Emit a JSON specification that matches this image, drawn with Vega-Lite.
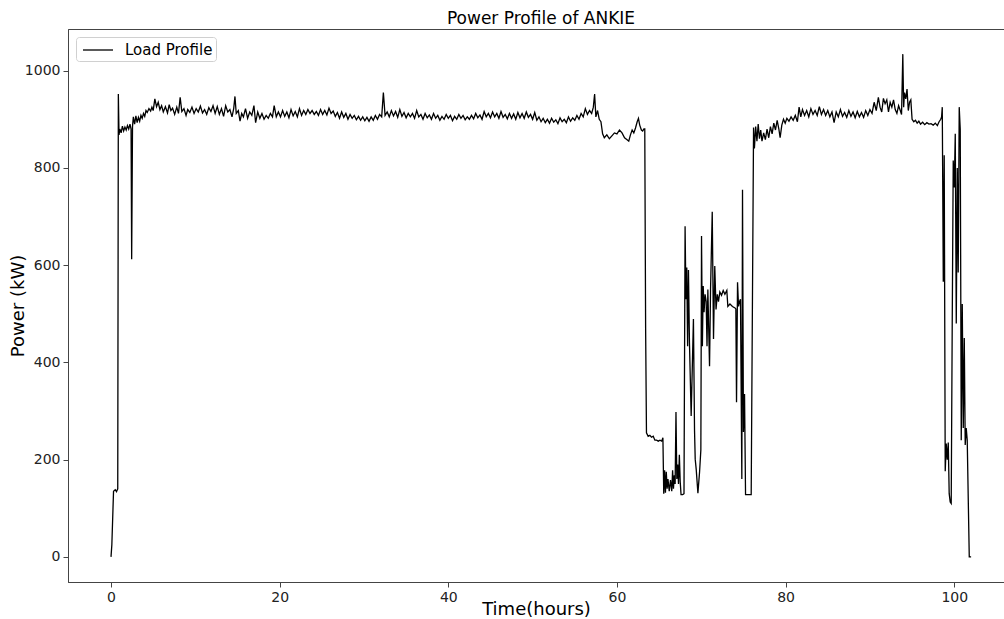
{
  "$schema": "https://vega.github.io/schema/vega-lite/v6.json",
  "autosize": {"type": "none"},
  "width": 936,
  "height": 553,
  "padding": {"left": 68, "top": 29, "right": 0, "bottom": 37},
  "background": "white",
  "title": {"text": "Power Profile of ANKIE", "fontSize": 17, "fontWeight": "normal", "font": "DejaVu Sans", "color": "#000", "offset": 1, "dx": 5},
  "config": {
    "view": {"stroke": "#444", "strokeWidth": 1},
    "font": "DejaVu Sans",
    "axis": {"labelFont": "DejaVu Sans", "titleFont": "DejaVu Sans", "labelFontSize": 14, "titleFontSize": 18, "titleFontWeight": "normal", "labelColor": "#222", "titleColor": "#000", "domainColor": "#444", "tickColor": "#444", "tickSize": 5, "grid": false, "labelPadding": 3}
  },
  "data": {"values": [
    {"t":0,"p":0},{"t":0.1,"p":25},{"t":0.3,"p":135},{"t":0.5,"p":138},{"t":0.65,"p":134},{"t":0.8,"p":140},{"t":0.87,"p":952},{"t":0.95,"p":868},{"t":1.05,"p":880},{"t":1.2,"p":872},{"t":1.35,"p":886},{"t":1.5,"p":876},{"t":1.65,"p":884},{"t":1.8,"p":878},{"t":1.95,"p":887},{"t":2.1,"p":880},{"t":2.25,"p":890},{"t":2.38,"p":880},{"t":2.45,"p":612},{"t":2.55,"p":885},{"t":2.65,"p":905},{"t":2.8,"p":890},{"t":2.95,"p":907},{"t":3.1,"p":893},{"t":3.25,"p":904},{"t":3.4,"p":896},{"t":3.55,"p":908},{"t":3.7,"p":902},{"t":3.85,"p":912},{"t":4.0,"p":906},{"t":4.15,"p":918},{"t":4.3,"p":914},{"t":4.5,"p":922},{"t":4.7,"p":917},{"t":4.85,"p":925},{"t":5.0,"p":918},{"t":5.2,"p":942},{"t":5.4,"p":926},
    {"t":5.6,"p":935},{"t":5.8,"p":920},{"t":6.0,"p":928},{"t":6.2,"p":915},{"t":6.45,"p":926},{"t":6.7,"p":913},{"t":6.9,"p":930},{"t":7.1,"p":918},{"t":7.3,"p":923},{"t":7.55,"p":910},{"t":7.8,"p":925},{"t":8.0,"p":912},{"t":8.2,"p":945},{"t":8.4,"p":916},{"t":8.65,"p":922},{"t":8.9,"p":908},{"t":9.1,"p":920},{"t":9.35,"p":914},{"t":9.6,"p":925},{"t":9.85,"p":912},{"t":10.1,"p":922},{"t":10.35,"p":915},{"t":10.6,"p":927},{"t":10.85,"p":913},{"t":11.1,"p":920},{"t":11.35,"p":910},{"t":11.6,"p":924},{"t":11.85,"p":916},{"t":12.1,"p":928},{"t":12.35,"p":912},{"t":12.6,"p":926},{"t":12.85,"p":910},{"t":13.1,"p":922},{"t":13.35,"p":906},{"t":13.6,"p":928},{"t":13.85,"p":915},{"t":14.1,"p":920},{"t":14.35,"p":905},{"t":14.55,"p":922},{"t":14.7,"p":947},{"t":14.85,"p":912},{"t":15.1,"p":918},{"t":15.3,"p":896},{"t":15.5,"p":912},{"t":15.7,"p":905},{"t":15.95,"p":922},{"t":16.2,"p":902},{"t":16.45,"p":915},{"t":16.7,"p":908},{"t":16.95,"p":928},{"t":17.15,"p":893},{"t":17.4,"p":915},{"t":17.65,"p":902},{"t":17.9,"p":912},{"t":18.15,"p":900},{"t":18.4,"p":908},{"t":18.65,"p":902},{"t":18.9,"p":912},{"t":19.15,"p":905},{"t":19.35,"p":928},{"t":19.6,"p":905},{"t":19.85,"p":915},{"t":20.1,"p":905},{"t":20.35,"p":918},{"t":20.6,"p":906},{"t":20.85,"p":915},{"t":21.1,"p":903},{"t":21.35,"p":920},{"t":21.6,"p":907},{"t":21.85,"p":916},{"t":22.1,"p":905},{"t":22.35,"p":922},{"t":22.6,"p":908},{"t":22.85,"p":918},{"t":23.1,"p":910},{"t":23.35,"p":920},{"t":23.6,"p":912},{"t":23.85,"p":918},{"t":24.1,"p":910},{"t":24.35,"p":916},{"t":24.6,"p":908},{"t":24.85,"p":920},{"t":25.1,"p":910},{"t":25.35,"p":918},{"t":25.6,"p":909},{"t":25.85,"p":923},{"t":26.1,"p":912},{"t":26.35,"p":917},{"t":26.6,"p":906},{"t":26.85,"p":914},{"t":27.1,"p":902},{"t":27.35,"p":915},{"t":27.6,"p":904},{"t":27.85,"p":912},{"t":28.1,"p":900},{"t":28.35,"p":910},{"t":28.6,"p":902},{"t":28.85,"p":908},{"t":29.1,"p":899},{"t":29.35,"p":906},{"t":29.6,"p":898},{"t":29.85,"p":905},{"t":30.1,"p":897},{"t":30.35,"p":904},{"t":30.6,"p":896},{"t":30.85,"p":905},{"t":31.1,"p":898},{"t":31.35,"p":908},{"t":31.6,"p":900},{"t":31.85,"p":910},{"t":32.1,"p":905},{"t":32.3,"p":955},{"t":32.5,"p":908},{"t":32.75,"p":915},{"t":33.0,"p":905},{"t":33.25,"p":918},{"t":33.5,"p":907},{"t":33.75,"p":916},{"t":34.0,"p":904},{"t":34.25,"p":920},{"t":34.5,"p":906},{"t":34.75,"p":914},{"t":35.0,"p":903},{"t":35.25,"p":912},{"t":35.5,"p":905},{"t":35.75,"p":912},{"t":36.0,"p":902},{"t":36.25,"p":918},{"t":36.5,"p":905},{"t":36.75,"p":910},{"t":37.0,"p":900},{"t":37.25,"p":912},{"t":37.5,"p":903},{"t":37.75,"p":909},{"t":38.0,"p":900},{"t":38.25,"p":912},{"t":38.5,"p":902},{"t":38.75,"p":908},{"t":39.0,"p":898},{"t":39.25,"p":906},{"t":39.5,"p":900},{"t":39.75,"p":910},{"t":40.0,"p":902},{"t":40.25,"p":908},{"t":40.5,"p":897},{"t":40.75,"p":906},{"t":41.0,"p":900},{"t":41.25,"p":910},{"t":41.5,"p":902},{"t":41.75,"p":908},{"t":42.0,"p":899},{"t":42.25,"p":905},{"t":42.5,"p":900},{"t":42.75,"p":908},{"t":43.0,"p":901},{"t":43.25,"p":912},{"t":43.5,"p":903},{"t":43.75,"p":909},{"t":44.0,"p":900},{"t":44.25,"p":916},{"t":44.5,"p":905},{"t":44.75,"p":912},{"t":45.0,"p":903},{"t":45.25,"p":915},{"t":45.5,"p":905},{"t":45.75,"p":912},{"t":46.0,"p":902},{"t":46.25,"p":916},{"t":46.5,"p":904},{"t":46.75,"p":910},{"t":47.0,"p":901},{"t":47.25,"p":912},{"t":47.5,"p":902},{"t":47.75,"p":911},{"t":48.0,"p":900},{"t":48.25,"p":914},{"t":48.5,"p":903},{"t":48.75,"p":912},{"t":49.0,"p":902},{"t":49.25,"p":915},{"t":49.5,"p":904},{"t":49.75,"p":910},{"t":50.0,"p":900},{"t":50.25,"p":914},{"t":50.5,"p":898},{"t":50.75,"p":905},{"t":51.0,"p":895},{"t":51.25,"p":902},{"t":51.5,"p":893},{"t":51.75,"p":900},{"t":52.0,"p":892},{"t":52.25,"p":902},{"t":52.5,"p":894},{"t":52.75,"p":899},{"t":53.0,"p":891},{"t":53.25,"p":903},{"t":53.5,"p":895},{"t":53.75,"p":900},{"t":54.0,"p":893},{"t":54.25,"p":905},{"t":54.5,"p":896},{"t":54.75,"p":903},{"t":55.0,"p":898},{"t":55.25,"p":908},{"t":55.5,"p":900},{"t":55.75,"p":912},{"t":56.0,"p":905},{"t":56.25,"p":922},{"t":56.5,"p":910},{"t":56.75,"p":918},{"t":57.0,"p":912},{"t":57.2,"p":925},{"t":57.35,"p":952},{"t":57.5,"p":905},{"t":57.7,"p":918},{"t":57.9,"p":900},
    {"t":58.1,"p":895},{"t":58.3,"p":870},{"t":58.5,"p":862},{"t":58.8,"p":868},{"t":59.1,"p":860},{"t":59.4,"p":866},{"t":59.7,"p":872},{"t":60.0,"p":870},{"t":60.3,"p":878},{"t":60.6,"p":872},{"t":60.9,"p":862},{"t":61.2,"p":858},{"t":61.4,"p":855},{"t":61.6,"p":868},{"t":61.8,"p":878},{"t":62.0,"p":872},{"t":62.2,"p":882},{"t":62.4,"p":895},{"t":62.55,"p":902},{"t":62.7,"p":888},{"t":62.9,"p":878},{"t":63.05,"p":876},{"t":63.2,"p":880},{"t":63.3,"p":880},{"t":63.4,"p":470},{"t":63.5,"p":255},{"t":63.7,"p":248},{"t":63.9,"p":250},{"t":64.1,"p":246},{"t":64.3,"p":248},{"t":64.5,"p":240},{"t":64.7,"p":240},{"t":64.9,"p":238},{"t":65.1,"p":240},{"t":65.3,"p":238},{"t":65.45,"p":245},{"t":65.55,"p":130},
    {"t":65.65,"p":178},{"t":65.75,"p":132},{"t":65.85,"p":175},{"t":65.95,"p":140},{"t":66.05,"p":160},{"t":66.2,"p":135},{"t":66.35,"p":158},{"t":66.5,"p":135},{"t":66.6,"p":178},{"t":66.7,"p":140},{"t":66.8,"p":168},{"t":66.9,"p":150},{"t":67.0,"p":298},{"t":67.1,"p":160},{"t":67.2,"p":190},{"t":67.3,"p":150},{"t":67.4,"p":210},{"t":67.5,"p":155},{"t":67.6,"p":128},{"t":67.8,"p":128},{"t":67.95,"p":130},{"t":68.08,"p":680},{"t":68.18,"p":530},{"t":68.28,"p":595},{"t":68.38,"p":433},{"t":68.48,"p":590},{"t":68.6,"p":440},{"t":68.8,"p":290},{"t":69.07,"p":489},{"t":69.2,"p":260},{"t":69.28,"p":201},{"t":69.4,"p":180},{"t":69.6,"p":131},{"t":69.8,"p":175},{"t":69.95,"p":220},{"t":70.03,"p":660},{"t":70.13,"p":433},{"t":70.23,"p":557},{"t":70.33,"p":503},{"t":70.45,"p":540},{"t":70.58,"p":525},{"t":70.68,"p":433},{"t":70.78,"p":550},{"t":70.98,"p":392},{"t":71.1,"p":550},{"t":71.3,"p":710},{"t":71.45,"p":448},{"t":71.6,"p":598},{"t":71.75,"p":509},{"t":71.9,"p":540},{"t":72.04,"p":525},{"t":72.2,"p":545},{"t":72.4,"p":538},{"t":72.6,"p":548},{"t":72.8,"p":540},{"t":73.03,"p":548},{"t":73.15,"p":515},{"t":73.4,"p":520},{"t":73.7,"p":515},{"t":74.0,"p":512},{"t":74.1,"p":510},{"t":74.18,"p":318},{"t":74.3,"p":565},{"t":74.42,"p":515},{"t":74.53,"p":525},{"t":74.65,"p":530},{"t":74.81,"p":160},{"t":74.89,"p":755},{"t":75.0,"p":257},{"t":75.13,"p":335},{"t":75.25,"p":128},{"t":75.5,"p":128},{"t":75.92,"p":128},{"t":76.2,"p":883},
    {"t":76.3,"p":840},{"t":76.45,"p":885},{"t":76.6,"p":855},{"t":76.75,"p":890},{"t":76.9,"p":860},{"t":77.05,"p":878},{"t":77.2,"p":855},{"t":77.4,"p":872},{"t":77.6,"p":858},{"t":77.8,"p":880},{"t":78.0,"p":862},{"t":78.2,"p":885},{"t":78.4,"p":870},{"t":78.6,"p":892},{"t":78.8,"p":878},{"t":79.0,"p":898},{"t":79.2,"p":880},{"t":79.35,"p":862},{"t":79.55,"p":888},{"t":79.75,"p":900},{"t":79.95,"p":892},{"t":80.15,"p":902},{"t":80.4,"p":896},{"t":80.65,"p":905},{"t":80.9,"p":898},{"t":81.15,"p":908},{"t":81.4,"p":895},{"t":81.6,"p":925},{"t":81.8,"p":905},{"t":82.0,"p":920},{"t":82.25,"p":908},{"t":82.5,"p":918},{"t":82.75,"p":905},{"t":83.0,"p":922},{"t":83.25,"p":910},{"t":83.5,"p":918},{"t":83.75,"p":908},{"t":84.0,"p":926},{"t":84.25,"p":910},{"t":84.5,"p":920},{"t":84.75,"p":908},{"t":85.0,"p":918},{"t":85.25,"p":905},{"t":85.5,"p":915},{"t":85.75,"p":893},{"t":86.0,"p":915},{"t":86.25,"p":905},{"t":86.5,"p":920},{"t":86.75,"p":906},{"t":87.0,"p":914},{"t":87.25,"p":904},{"t":87.5,"p":918},{"t":87.75,"p":906},{"t":88.0,"p":915},{"t":88.25,"p":903},{"t":88.5,"p":916},{"t":88.75,"p":905},{"t":89.0,"p":914},{"t":89.25,"p":904},{"t":89.5,"p":918},{"t":89.75,"p":908},{"t":90.0,"p":920},{"t":90.25,"p":912},{"t":90.5,"p":935},{"t":90.75,"p":918},{"t":91.0,"p":945},{"t":91.2,"p":925},{"t":91.4,"p":915},{"t":91.6,"p":943},{"t":91.8,"p":932},{"t":92.0,"p":940},{"t":92.2,"p":915},{"t":92.4,"p":935},{"t":92.6,"p":925},{"t":92.8,"p":940},{"t":93.0,"p":920},{"t":93.2,"p":912},{"t":93.4,"p":928},{"t":93.6,"p":918},{"t":93.75,"p":910},{"t":93.9,"p":1034},{"t":94.0,"p":925},{"t":94.1,"p":955},{"t":94.25,"p":942},{"t":94.4,"p":962},{"t":94.55,"p":918},{"t":94.7,"p":935},{"t":94.85,"p":940},{"t":95.0,"p":900},{"t":95.2,"p":895},{"t":95.4,"p":898},{"t":95.6,"p":892},{"t":95.8,"p":896},{"t":96.0,"p":890},{"t":96.25,"p":894},{"t":96.5,"p":889},{"t":96.75,"p":893},{"t":97.0,"p":890},{"t":97.25,"p":891},{"t":97.5,"p":888},{"t":97.75,"p":892},{"t":98.0,"p":887},{"t":98.2,"p":895},{"t":98.4,"p":900},{"t":98.5,"p":905},{"t":98.58,"p":925},
    {"t":98.7,"p":566},{"t":98.81,"p":826},{"t":98.93,"p":176},{"t":99.05,"p":233},{"t":99.17,"p":200},{"t":99.29,"p":235},{"t":99.4,"p":130},{"t":99.52,"p":113},{"t":99.64,"p":110},{"t":99.76,"p":480},{"t":99.88,"p":815},{"t":100.0,"p":760},{"t":100.12,"p":870},{"t":100.24,"p":480},{"t":100.36,"p":800},{"t":100.47,"p":585},{"t":100.59,"p":925},{"t":100.71,"p":880},{"t":100.83,"p":240},{"t":100.95,"p":520},{"t":101.07,"p":265},{"t":101.19,"p":450},{"t":101.3,"p":230},{"t":101.42,"p":265},{"t":101.54,"p":240},{"t":101.78,"p":0},{"t":102.0,"p":0}
  ]},
  "mark": {"type": "line", "strokeWidth": 1.3, "clip": true, "interpolate": "linear"},
  "encoding": {
    "x": {"field": "t", "type": "quantitative", "title": "Time(hours)",
      "scale": {"domain": [-5.1, 105.9], "nice": false, "zero": false},
      "axis": {"values": [0, 20, 40, 60, 80, 100], "format": "d", "titleY": 18}},
    "y": {"field": "p", "type": "quantitative", "title": "Power (kW)",
      "scale": {"domain": [-51.7, 1085.7], "nice": false, "zero": false},
      "axis": {"values": [0, 200, 400, 600, 800, 1000], "format": "d", "titleX": -41}},
    "color": {"datum": "Load Profile", "type": "nominal",
      "scale": {"range": ["#000000"]},
      "legend": {"title": null, "orient": "top-left", "offset": 8, "symbolType": "M-1.667,0H1.667", "symbolSize": 324, "symbolOffset": 9, "symbolStrokeWidth": 1.3, "symbolFillColor": "transparent", "labelFontSize": 15, "labelFont": "DejaVu Sans", "labelColor": "#000", "fillColor": "white", "strokeColor": "#d0d0d0", "padding": 3, "cornerRadius": 3, "labelOffset": 17}}
  }
}
